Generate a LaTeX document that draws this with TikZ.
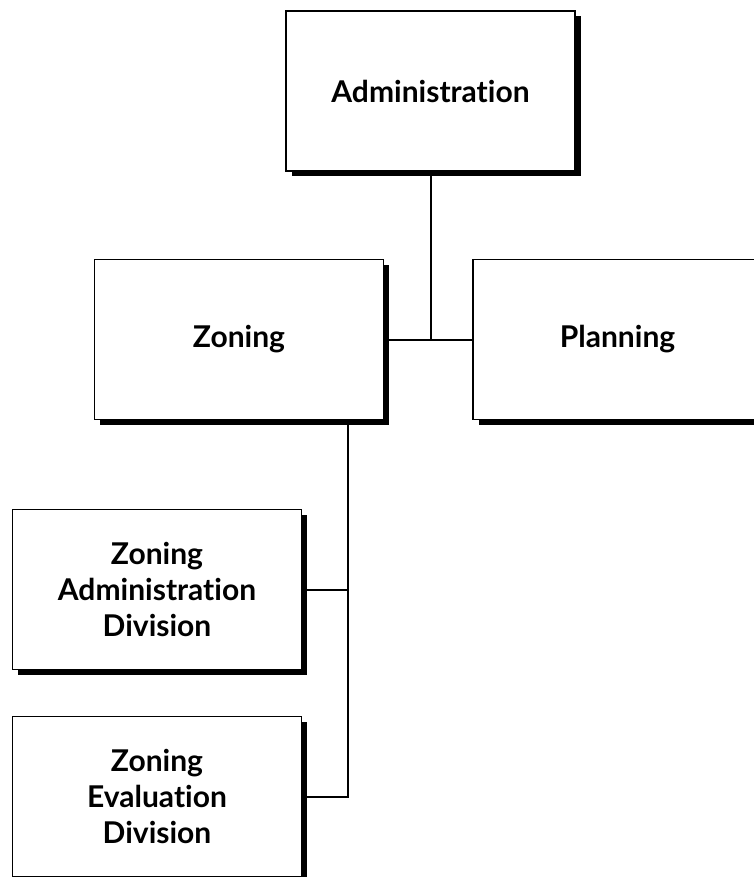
\documentclass[tikz,border=0pt]{standalone}
\usepackage{fontspec}
\setmainfont{Lato}[Ligatures=NoCommon]
\usepackage{tikz}
\usetikzlibrary{positioning,calc,shadows}
\tikzset{
  unit/.style  ={draw=black, fill=white, line width=1.8pt, align=center,
                 minimum width=289pt, minimum height=160pt, inner sep=0pt,
                 font=\bfseries\fontsize{30}{36}\selectfont,
                 drop shadow={shadow xshift=5.5pt, shadow yshift=-5.5pt,
                              fill=black, opacity=1}},
  link/.style  ={line width=2pt, black},
}
\begin{document}
\begin{tikzpicture}[x=1pt, y=-1pt]
    \useasboundingbox (0,0) rectangle (754,877);
    % top
    \node[unit] (admin) at (430.5,91) {Administration};
    % second row
    \node[unit] (zoning)   at (239,339.5)   {Zoning};
    \node[unit] (planning) at (617.5,339.5) {Planning};
    % divisions
    \node[unit] (zad) at (157,589.5) {Zoning\\Administration\\Division};
    \node[unit] (zed) at (157,796.5) {Zoning\\Evaluation\\Division};
    % links
    \coordinate (trunk) at (348,419);
    \draw[link] (admin.south) -- (admin.south |- zoning.east);
    \draw[link] (zoning.east) -- (planning.west);
    \draw[link] (trunk) |- (zed.east);
    \draw[link] (zad.east) -- (zad.east -| trunk);
  \end{tikzpicture}
\end{document}
